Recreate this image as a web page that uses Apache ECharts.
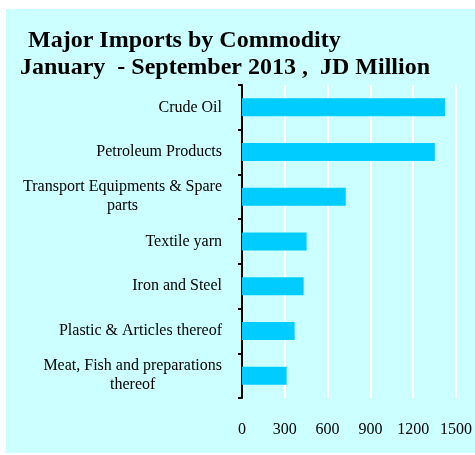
<!DOCTYPE html>
<html>
<head>
<meta charset="utf-8">
<script src="https://cdn.jsdelivr.net/npm/echarts@6/dist/echarts.min.js"></script>
<style>
  html, body { margin: 0; padding: 0; background: #ffffff; }
  #chart { width: 475px; height: 455px; }
</style>
</head>
<body>
<div id="chart"></div>
<script>
// commodities, top to bottom
var categories = [
  'Crude Oil',
  'Petroleum Products',
  'Transport Equipments & Spare\nparts',
  'Textile yarn',
  'Iron and Steel',
  'Plastic & Articles thereof',
  'Meat, Fish and preparations\nthereof'
]
// JD million, Jan - Sep 2013
var imports = [1423, 1352, 727, 453, 432, 369, 313]
var xTicks = [0, 300, 600, 900, 1200, 1500]

var serif = '"Liberation Serif", "Times New Roman", serif'

var chart = echarts.init(document.getElementById('chart'))
chart.setOption({
  animation: false,
  backgroundColor: '#ffffff',
  graphic: [{
    type: 'rect',
    z: -10,
    shape: { x: 6, y: 9, width: 469, height: 444 },
    style: { fill: '#CCFFFF' }
  }],
  title: [{
    text: 'Major Imports by Commodity',
    left: 23,
    top: 24,
    textStyle: { fontFamily: serif, fontSize: 24, fontWeight: 'bold', color: '#000' }
  }, {
    text: 'January  - September 2013 ,  JD Million',
    left: 15,
    top: 51,
    textStyle: { fontFamily: serif, fontSize: 24, fontWeight: 'bold', color: '#000' }
  }],
  grid: {
    left: 242,
    top: 85,
    width: 214,
    height: 313
  },
  xAxis: {
    type: 'value',
    min: xTicks[0],
    max: xTicks[xTicks.length - 1],
    interval: 300,
    axisLine: { show: false },
    axisTick: { show: false },
    splitLine: { show: true, lineStyle: { color: '#ffffff', width: 2 } },
    axisLabel: {
      margin: 24,
      fontFamily: serif,
      fontSize: 16,
      color: '#000',
      formatter: function (v) { return String(v) }
    }
  },
  yAxis: {
    type: 'category',
    inverse: true,
    data: categories,
    axisLine: { show: true, lineStyle: { color: '#000', width: 2 } },
    axisTick: { show: true, length: 4, lineStyle: { color: '#000', width: 2 } },
    axisLabel: {
      margin: 20,
      fontFamily: serif,
      fontSize: 16,
      color: '#000',
      formatter: function (val) {
        return val.split('\n').map(function (s) { return '{c|' + s + '}' }).join('\n')
      },
      rich: {
        c: { align: 'center', fontFamily: serif, fontSize: 16, color: '#000', lineHeight: 19 }
      }
    }
  },
  series: [{
    type: 'bar',
    data: imports,
    barWidth: 18,
    itemStyle: { color: '#00CCFF' }
  }]
})
</script>
</body>
</html>
